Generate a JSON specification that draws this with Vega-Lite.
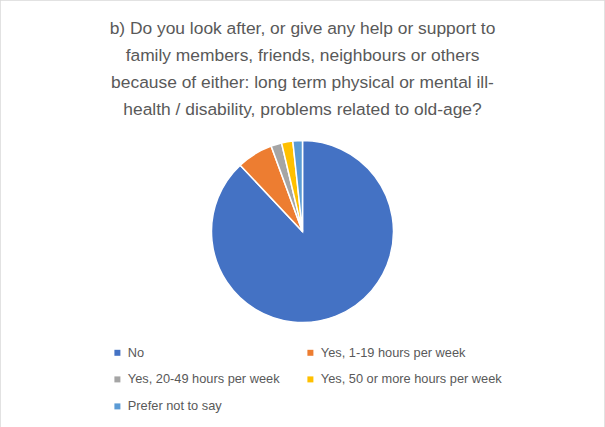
{
  "$schema": "https://vega.github.io/schema/vega-lite/v6.json",
  "width": 605,
  "height": 463,
  "autosize": {"type": "none"},
  "padding": 0,
  "background": "white",
  "view": {"stroke": "#d9d9d9", "strokeWidth": 1.5},
  "title": {
    "text": [
      "b) Do you look after, or give any help or support to",
      "family members, friends, neighbours or others",
      "because of either: long term physical or mental ill-",
      "health / disability, problems related to old-age?"
    ],
    "orient": "top",
    "anchor": "middle",
    "frame": "group",
    "offset": -118,
    "font": "Liberation Sans",
    "fontSize": 17.4,
    "fontWeight": "normal",
    "color": "#595959",
    "lineHeight": 27
  },
  "data": {
    "values": [
      {"response": "No", "percent": 88.0, "rank": 1},
      {"response": "Yes, 1-19 hours per week", "percent": 6.4, "rank": 2},
      {"response": "Yes, 20-49 hours per week", "percent": 1.9, "rank": 3},
      {"response": "Yes, 50 or more hours per week", "percent": 2.0, "rank": 4},
      {"response": "Prefer not to say", "percent": 1.7, "rank": 5}
    ]
  },
  "mark": {"type": "arc", "radius": 91, "stroke": "white", "strokeWidth": 1.5},
  "encoding": {
    "theta": {"field": "percent", "type": "quantitative", "stack": true},
    "order": {"field": "rank", "type": "quantitative"},
    "color": {
      "field": "response",
      "type": "nominal",
      "sort": ["No", "Yes, 1-19 hours per week", "Yes, 20-49 hours per week", "Yes, 50 or more hours per week", "Prefer not to say"],
      "scale": {
        "domain": ["No", "Yes, 1-19 hours per week", "Yes, 20-49 hours per week", "Yes, 50 or more hours per week", "Prefer not to say"],
        "range": ["#4472C4", "#ED7D31", "#A5A5A5", "#FFC000", "#5B9BD5"]
      },
      "legend": {
        "orient": "none",
        "direction": "horizontal",
        "legendX": 111,
        "legendY": 346,
        "columns": 2,
        "title": null,
        "symbolType": "square",
        "symbolSize": 36,
        "symbolStrokeWidth": 0,
        "labelFont": "Liberation Sans",
        "labelFontSize": 12.8,
        "labelColor": "#595959",
        "labelLimit": 300,
        "labelOffset": 4,
        "columnPadding": 24,
        "rowPadding": 13,
        "padding": 0
      }
    }
  }
}
